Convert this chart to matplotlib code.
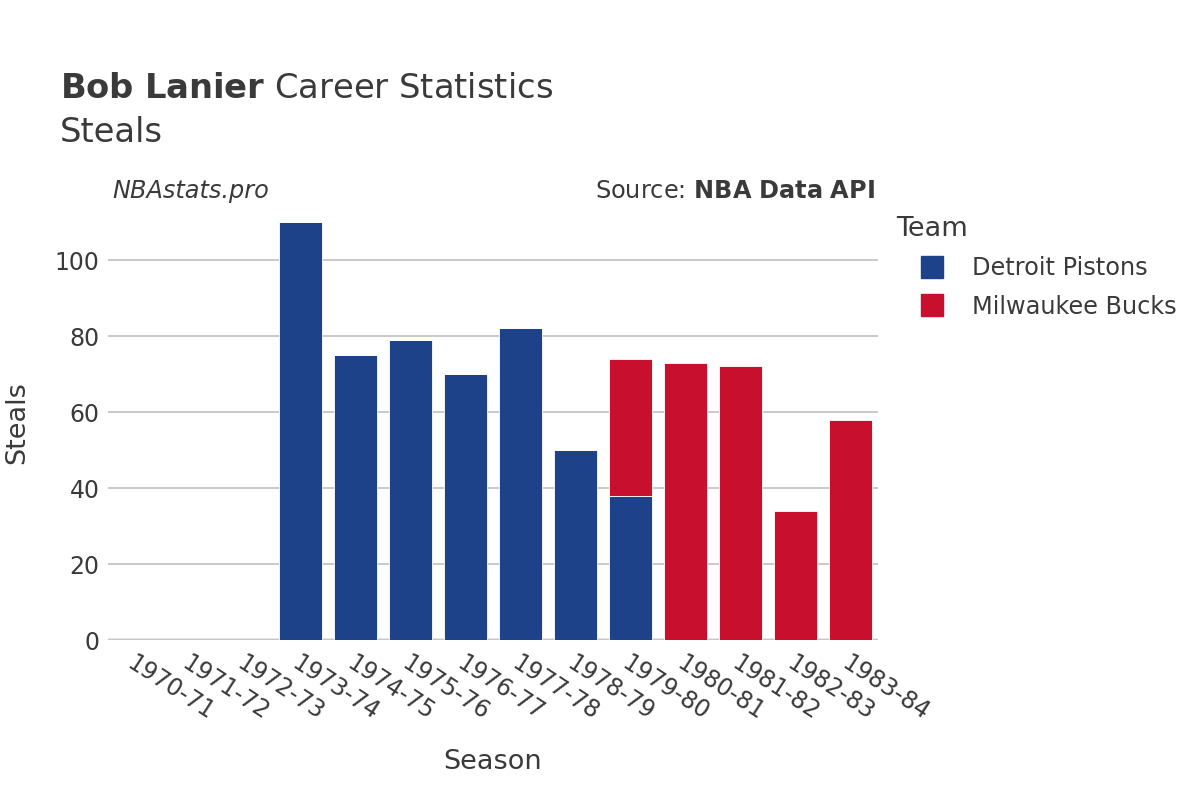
import matplotlib
matplotlib.use("Agg")
from matplotlib import pyplot as plt
from matplotlib.lines import Line2D

plt.rcParams['font.family'] = ['DejaVu Sans']

# データ
seasons = ["1970-71", "1971-72", "1972-73", "1973-74", "1974-75", "1975-76", "1976-77",
           "1977-78", "1978-79", "1979-80", "1980-81", "1981-82", "1982-83", "1983-84"]
detroit = [0, 0, 0, 110, 75, 79, 70, 82, 50, 38, 0, 0, 0, 0]
milwaukee = [0, 0, 0, 0, 0, 0, 0, 0, 0, 36, 73, 72, 34, 58]
teams = ["Detroit Pistons", "Milwaukee Bucks"]
team_colors = ["#1d428a", "#c8102e"]
yticks = [0, 20, 40, 60, 80, 100]

text_color = "#3a3a3a"

fig = plt.figure(figsize=(12, 8), dpi=100)
ax = fig.add_axes([0.09, 0.2, 0.6417, 0.54375])

x = range(len(seasons))
ax.bar(x, detroit, width=0.78, color=team_colors[0], edgecolor="white", linewidth=0.6, zorder=3)
ax.bar(x, milwaukee, width=0.78, bottom=detroit, color=team_colors[1],
       edgecolor="white", linewidth=0.6, zorder=3)

ax.set_xlim(-0.5, len(seasons) - 0.5)
ax.set_ylim(0, 114.5)
ax.set_yticks(yticks)
ax.set_xticks(list(x))
ax.set_xticklabels(seasons, rotation=-33, ha="left", va="top", rotation_mode="anchor")
ax.tick_params(axis="x", length=0, pad=8, labelsize=17, labelcolor=text_color)
ax.tick_params(axis="y", length=0, pad=6, labelsize=17, labelcolor=text_color)

# グリッド
ax.grid(axis="y", color="#c0c0c0", linewidth=1.2, zorder=0)
ax.axhline(0, color="#e8e8e8", linewidth=3, zorder=1)
for s in ax.spines.values():
    s.set_visible(False)

ax.set_ylabel("Steals", fontsize=19.5, color=text_color)
ax.set_xlabel("Season", fontsize=19.5, color=text_color)
ax.xaxis.set_label_coords(0.5, -0.25)
ax.yaxis.set_label_coords(-0.101, 0.5)

# タイトル
fig.text(0.05, 0.889, r"$\bf{Bob\ Lanier}$ Career Statistics", fontsize=24.3, color=text_color, va="center")
fig.text(0.05, 0.835, "Steals", fontsize=24.3, color=text_color, va="center")
fig.text(0.094, 0.761, "NBAstats.pro", fontsize=17.3, style="italic", color=text_color, va="center")
fig.text(0.729, 0.761, r"Source: $\bf{NBA\ Data\ API}$", fontsize=17.3, color=text_color,
         va="center", ha="right")

# 凡例
handles = [Line2D([], [], marker="s", linestyle="", markersize=16, color=c) for c in team_colors]
leg = fig.legend(handles, teams, loc="upper left", bbox_to_anchor=(0.7367, 0.745),
                 frameon=False, fontsize=17.3, title="Team", title_fontsize=19.5,
                 handlelength=3.0, handletextpad=0.15, labelspacing=0.6, borderpad=0)
leg._legend_box.align = "left"
for t in leg.get_texts():
    t.set_color(text_color)
leg.get_title().set_color(text_color)

plt.savefig("out.png")
